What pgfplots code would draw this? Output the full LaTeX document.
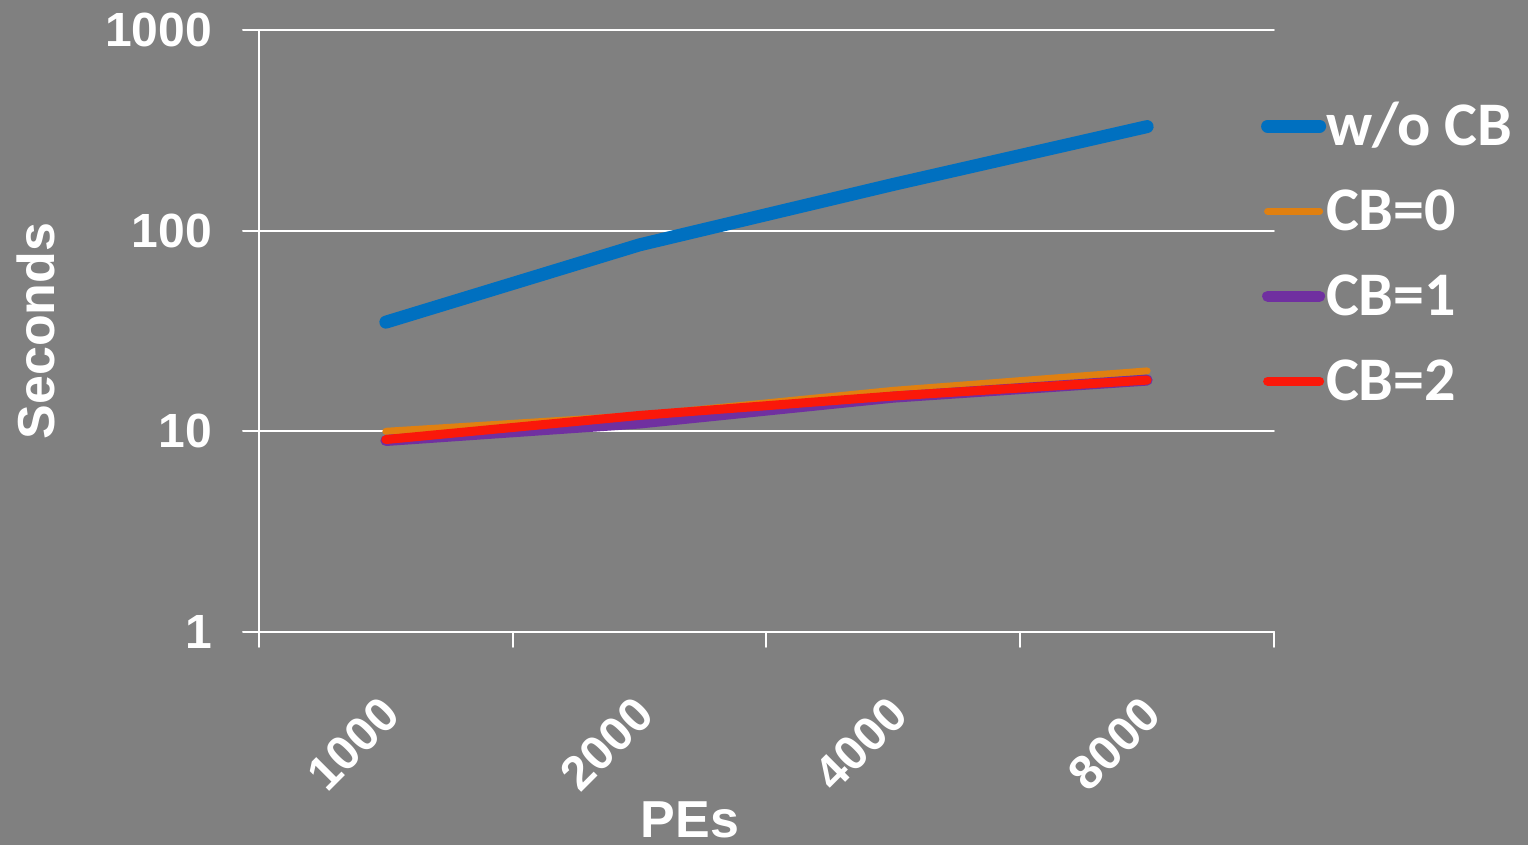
\documentclass[border=0pt]{standalone}
\usepackage{pgfplots}
\pgfplotsset{compat=1.18}
\usepackage{fontspec}
\setmainfont{Liberation Sans}
\newfontfamily\legfont{Carlito}
\definecolor{bg}{RGB}{128,128,128}
\definecolor{cblue}{RGB}{0,112,192}
\definecolor{corange}{RGB}{224,128,16}
\definecolor{cpurple}{RGB}{112,48,160}
\definecolor{cred}{RGB}{250,24,10}
\begin{document}
\begin{tikzpicture}
\useasboundingbox (0,0) rectangle (764pt,422.5pt);
\fill[bg] (0,0) rectangle (764pt,422.5pt);
\begin{axis}[
  at={(129.5pt,106.5pt)}, anchor=south west,
  scale only axis, width=507.5pt, height=301pt,
  ymode=log, ymin=1, ymax=1000,
  xmin=-0.5, xmax=3.5,
  axis x line*=bottom, axis y line*=left,
  axis line style={white, line width=1pt},
  ytick={1,10,100,1000}, yticklabels={1,10,100,1000},
  yminorticks=false,
  xtick={0,1,2,3}, xticklabels={1000,2000,4000,8000},
  minor xtick={-0.5,0.5,1.5,2.5,3.5},
  tick align=outside,
  major tick length=8pt, minor tick length=7.5pt,
  every tick/.style={white, line width=1pt},
  major x tick style={draw=none},
  ymajorgrids, grid style={white, line width=1pt},
  /pgf/number format/assume math mode=true,
  yticklabel style={font=\fontsize{24}{28}\selectfont\bfseries, text=white, anchor=east, xshift=-12pt},
  xticklabel style={font=\fontsize{24}{28}\selectfont\bfseries, text=white, xshift=-3.5pt, yshift=-18pt, rotate=45, anchor=north east},
  ylabel={Seconds}, xlabel={PEs},
  ylabel style={font=\fontsize{26}{30}\selectfont\bfseries, text=white, at={(axis description cs:-0.2197,0.5)}, anchor=center, rotate=0},
  xlabel style={font=\fontsize{26}{30}\selectfont\bfseries, text=white, at={(axis description cs:0.4246,-0.312)}, anchor=center},
  legend style={at={(axis description cs:0.981,0.889)}, anchor=north west, draw=none, fill=none,
    font=\fontsize{31}{34}\selectfont\legfont\bfseries, text=white,
    nodes={inner sep=0pt, text height=22pt, text depth=6pt}, row sep=14.5pt},
  legend cell align=left,
  legend image code/.code={\draw[#1, line cap=round] (3pt,1.5pt) -- (29pt,1.5pt);},
  line cap=round, line join=round,
]
\addplot[cblue, line width=6.5pt] coordinates {(0,35) (1,85) (2,170) (3,330)};
\addlegendentry{w/o CB}
\addplot[corange, line width=3.5pt] coordinates {(0,10) (1,12) (2,16) (3,20)};
\addlegendentry{CB=0}
\addplot[cpurple, line width=5.5pt] coordinates {(0,9) (1,11) (2,14.8) (3,18)};
\addlegendentry{CB=1}
\addplot[cred, line width=4.5pt] coordinates {(0,9.1) (1,12) (2,15) (3,18)};
\addlegendentry{CB=2}
\end{axis}
\end{tikzpicture}
\end{document}
